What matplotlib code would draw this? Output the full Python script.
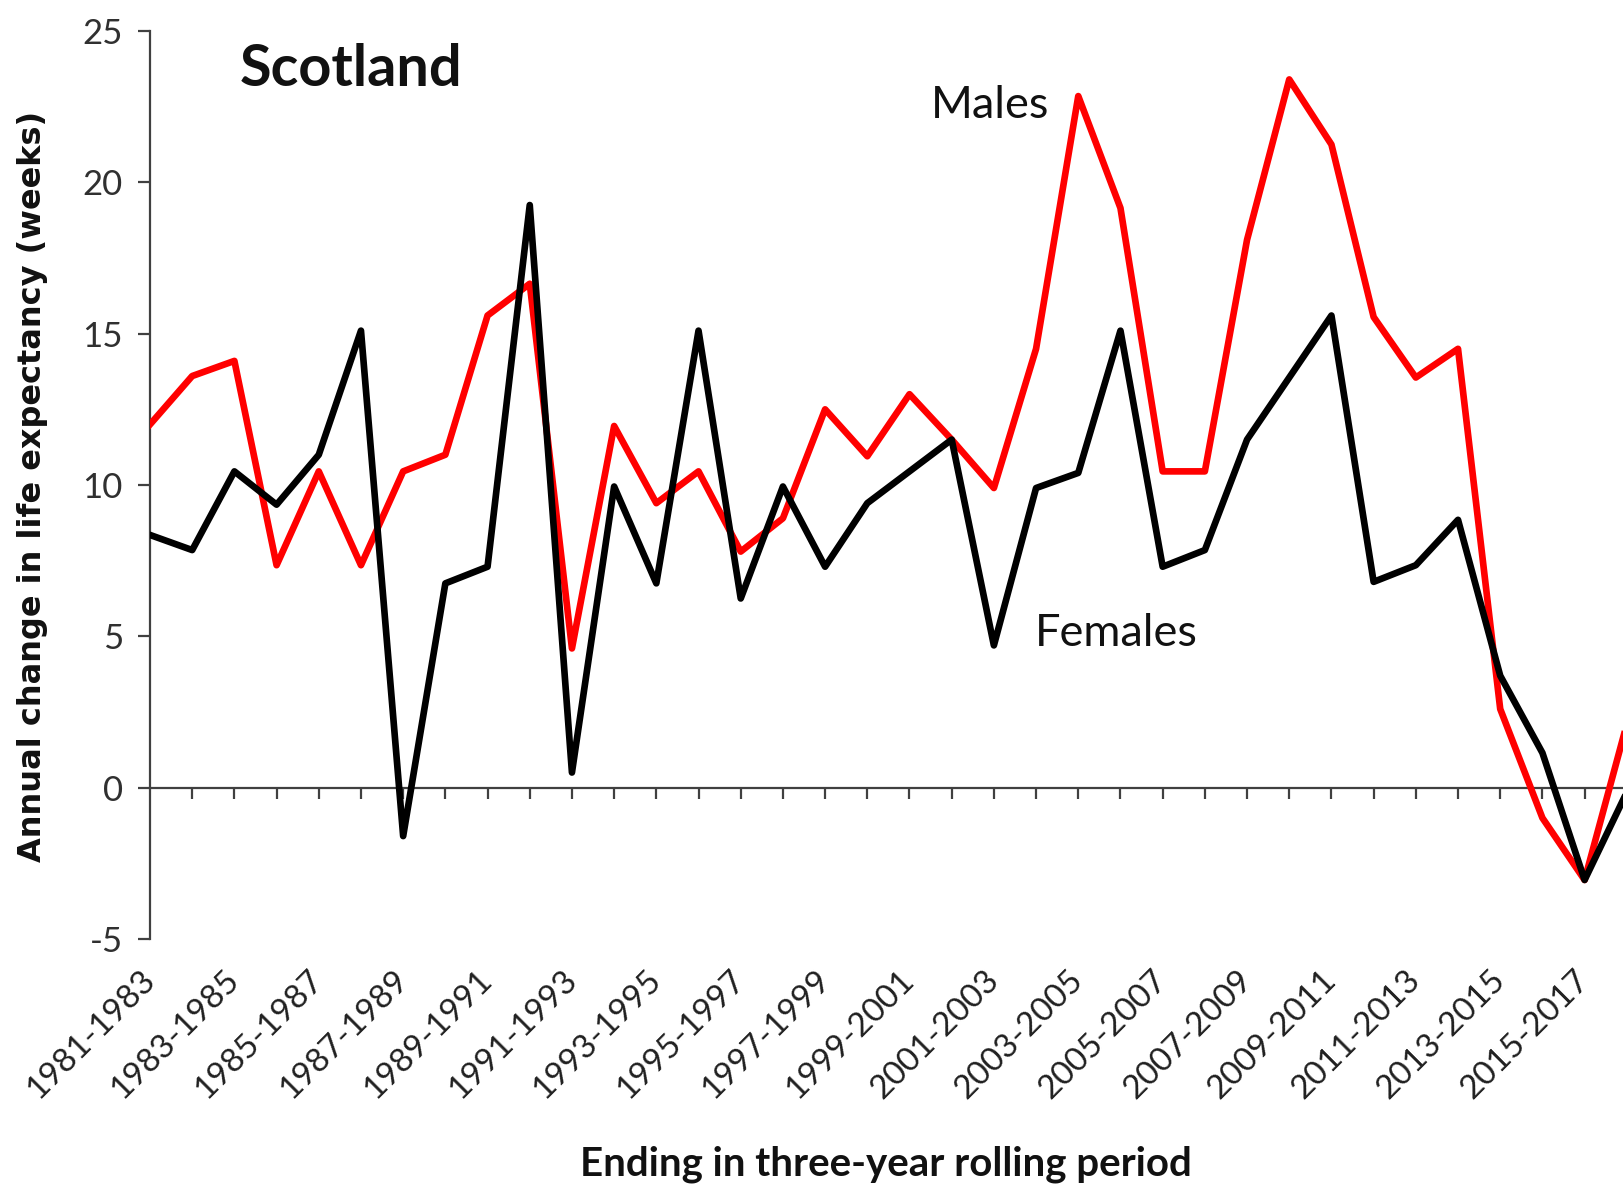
import matplotlib
matplotlib.use("Agg")
import matplotlib.pyplot as plt

# ---- data ----
periods = [f"{y}-{y+2}" for y in range(1981, 2017)]  # 1981-1983 ... 2016-2018
males = [12.0, 13.6, 14.1, 7.35, 10.45, 7.35, 10.45, 11.0, 15.6, 16.65,
         4.6, 11.95, 9.4, 10.45, 7.8, 8.9, 12.5, 10.95, 13.0, 11.5,
         9.9, 14.5, 22.85, 19.15, 10.45, 10.45, 18.1, 23.4, 21.25, 15.55,
         13.55, 14.5, 2.6, -1.0, -3.05, 2.1]
females = [8.35, 7.85, 10.45, 9.35, 11.0, 15.1, -1.6, 6.75, 7.3, 19.25,
           0.5, 9.95, 6.75, 15.1, 6.25, 9.95, 7.3, 9.4, 10.45, 11.5,
           4.7, 9.9, 10.4, 15.1, 7.3, 7.85, 11.5, 13.55, 15.6, 6.8,
           7.35, 8.85, 3.7, 1.15, -3.05, -0.15]
yticks = [-5, 0, 5, 10, 15, 20, 25]

W, H = 1623, 1189
fig = plt.figure(figsize=(W / 100, H / 100), dpi=100)
ax = fig.add_axes([150 / W, 1 - 939 / H, 1473 / W, 908 / H])

x = list(range(len(periods)))
axis_col = "#404040"
ax.plot(x, males, color="#FF0000", lw=4.8, solid_joinstyle="round", zorder=3)
ax.plot(x, females, color="#000000", lw=4.8, solid_joinstyle="round", zorder=4)

ax.set_xlim(0, 34.91)
ax.set_ylim(-5, 25)

for s in ("top", "right", "bottom"):
    ax.spines[s].set_visible(False)
ax.spines["left"].set_color(axis_col)
ax.spines["left"].set_linewidth(1.6)

# y axis
ax.set_yticks(yticks)
ax.set_yticklabels([str(v) for v in yticks], fontfamily="Lato")
ax.tick_params(axis="y", direction="out", length=8.6, width=1.6, color=axis_col,
               labelsize=25, labelcolor="#303030", pad=11)

# x tick labels (every other period) at bottom
ax.set_xticks(x[::2])
ax.set_xticklabels(periods[::2], fontfamily="Lato")
ax.tick_params(axis="x", length=0, labelsize=24, labelcolor="#202020", pad=26)
for lab in ax.get_xticklabels():
    lab.set_rotation(45)
    lab.set_ha("right")
    lab.set_va("center")
    lab.set_rotation_mode("anchor")

# zero line with downward ticks
sec = ax.secondary_xaxis(5 / 30)
sec.set_xticks(x[1:])
sec.set_xticklabels([])
sec.tick_params(axis="x", direction="out", length=8, width=1.6, color=axis_col)
sec.spines["bottom"].set_visible(True)
sec.spines["bottom"].set_color(axis_col)
sec.spines["bottom"].set_linewidth(1.6)
for s in ("top", "left", "right"):
    sec.spines[s].set_visible(False)

# texts
fig.text(240 / W, 1 - 69 / H, "Scotland", fontfamily="Lato", fontweight="bold",
         fontsize=41.5, ha="left", va="center", color="#111111")
fig.text(931 / W, 1 - 106 / H, "Males", fontfamily="Lato", fontsize=32.5,
         ha="left", va="center", color="#111111")
fig.text(1035 / W, 1 - 633 / H, "Females", fontfamily="Lato", fontsize=32.5,
         ha="left", va="center", color="#111111")

fig.text(33 / W, 1 - 486 / H, "Annual change in life expectancy (weeks)",
         fontfamily="DejaVu Sans", fontweight="bold", fontsize=23,
         rotation=90, ha="center", va="center", color="#111111")
fig.text(886 / W, 1 - 1164 / H, "Ending in three-year rolling period",
         fontfamily="Lato", fontweight="bold", fontsize=29,
         ha="center", va="center", color="#111111")

fig.savefig("out.png", dpi=100)
